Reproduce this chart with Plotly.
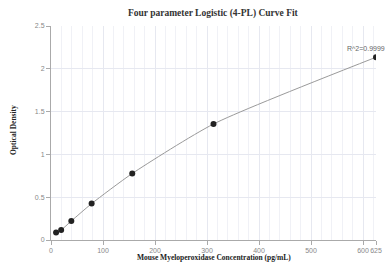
import plotly.graph_objects as go

conc = [9.77, 19.53, 39.06, 78.13, 156.25, 312.5, 625]
od = [0.087, 0.117, 0.222, 0.425, 0.777, 1.355, 2.135]
x_ticks = [0, 100, 200, 300, 400, 500, 600, 625]
y_ticks = [0, 0.5, 1, 1.5, 2, 2.5]
r2_label = "R^2=0.9999"
x_title = "Mouse Myeloperoxidase Concentration (pg/mL)"
y_title = "Optical Density"

fig = go.Figure()
fig.add_trace(go.Scatter(x=conc, y=od, mode="lines",
                         line=dict(color="#9a9a9a", width=1, shape="spline", smoothing=0.6),
                         hoverinfo="skip", showlegend=False))
fig.add_trace(go.Scatter(x=conc, y=od, mode="markers",
                         marker=dict(color="#222222", size=6),
                         showlegend=False))

fig.add_annotation(x=conc[-1], y=od[-1], text=r2_label, showarrow=False,
                   xanchor="center", yanchor="bottom", xshift=-10, yshift=3,
                   font=dict(family="Liberation Sans, Arial", size=7, color="#666666"))

axis_title_font = dict(family="Liberation Serif, Times New Roman", size=7.5, color="#222222")
fig.add_annotation(text="<b>" + x_title + "</b>", xref="paper", yref="paper",
                   x=0.5, y=-0.084, xanchor="center", yanchor="middle",
                   showarrow=False, font=axis_title_font)
fig.add_annotation(text="<b>" + y_title + "</b>", xref="paper", yref="paper",
                   x=-0.117, y=0.514, xanchor="center", yanchor="middle", textangle=-90,
                   showarrow=False, font=axis_title_font)

fig.update_layout(
    width=392, height=271,
    margin=dict(l=51, r=16, t=26, b=31),
    paper_bgcolor="white", plot_bgcolor="white",
    title=dict(text="<b>Four parameter Logistic (4-PL) Curve Fit</b>",
               x=0.543, xanchor="center", y=0.955, yanchor="middle",
               font=dict(family="Liberation Serif, Times New Roman", size=9.5, color="#333333")),
    xaxis=dict(range=[0, 625], tickvals=x_ticks, ticktext=[str(v) for v in x_ticks],
               tickangle=0, automargin=False,
               showgrid=True, gridcolor="#e6e8f0", gridwidth=1,
               minor=dict(dtick=20, showgrid=True, gridcolor="#f0f1f6", gridwidth=1),
               showline=True, linecolor="#aaaaaa", linewidth=1,
               ticks="outside", ticklen=4, tickcolor="#aaaaaa",
               tickfont=dict(family="Liberation Sans, Arial", size=7, color="#888888"),
               zeroline=False),
    yaxis=dict(range=[0, 2.5], tickvals=y_ticks, ticktext=["0", "0.5", "1", "1.5", "2", "2.5"],
               automargin=False,
               showgrid=True, gridcolor="#e6e8f0", gridwidth=1,
               showline=True, linecolor="#aaaaaa", linewidth=1,
               ticks="outside", ticklen=4, tickcolor="#aaaaaa",
               tickfont=dict(family="Liberation Sans, Arial", size=7, color="#888888"),
               zeroline=False),
)

fig.write_html("out.html", config={"displayModeBar": False},
               post_script="document.body.style.margin='0';document.body.style.padding='0';")
